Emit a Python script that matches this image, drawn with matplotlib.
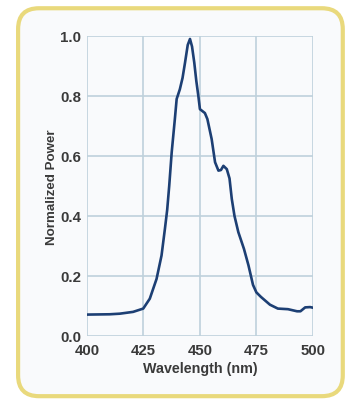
import matplotlib
matplotlib.use("Agg")
import matplotlib.pyplot as plt
from matplotlib.patches import FancyBboxPatch

# spectrum
wavelength = [400, 410, 414.5, 420.4, 424.9, 427.8, 430.8, 433, 434.5, 435.5, 436.4,
              437.5, 438.9, 439.7, 441.1, 442.3, 443.4, 444.6, 445.6, 446.5, 447.5,
              448.4, 449.3, 450, 452.2, 453.3, 455.2, 456.7, 458.2, 459.3, 460.4,
              461.9, 463.1, 464.1, 465.3, 467, 469.5, 471.5, 473.5, 475, 477, 481,
              484.5, 489, 493, 494.5, 496.6, 498.8, 500]
power = [0.071, 0.072, 0.074, 0.080, 0.091, 0.124, 0.19, 0.268, 0.357, 0.42, 0.50,
         0.612, 0.723, 0.79, 0.822, 0.86, 0.911, 0.97, 0.99, 0.965, 0.911,
         0.85, 0.80, 0.756, 0.743, 0.723, 0.656, 0.579, 0.551, 0.553, 0.567,
         0.556, 0.525, 0.457, 0.40, 0.346, 0.29, 0.235, 0.17, 0.145, 0.13, 0.104,
         0.091, 0.089, 0.082, 0.082, 0.095, 0.096, 0.094]
xticks = [400, 425, 450, 475, 500]
yticks = [0.0, 0.2, 0.4, 0.6, 0.8, 1.0]

plt.rcParams['font.family'] = ['Liberation Sans', 'DejaVu Sans']
txt = '#3a3a3a'
bg = '#f9fafc'

fig = plt.figure(figsize=(3.48, 4.02), dpi=100)
fig.patch.set_facecolor('white')
frame = FancyBboxPatch((0.052, 0.012), 0.933, 0.965, boxstyle="round,pad=0,rounding_size=0.06",
                       transform=fig.transFigure, facecolor=bg, edgecolor='#e9d97c',
                       linewidth=3.0, mutation_aspect=348 / 402, zorder=-5)
fig.patches.append(frame)

ax = fig.add_axes([0.25, 0.162, 0.649, 0.746])
ax.set_zorder(2)
ax.set_facecolor(bg)
ax.plot(wavelength, power, color='#1d3f74', lw=1.9, solid_joinstyle='round')
ax.set_xlim(400, 500)
ax.set_ylim(0, 1.0)
ax.set_xticks(xticks)
ax.set_yticks(yticks)
ax.set_yticklabels([f"{v:.1f}" for v in yticks])
ax.grid(True, color='#bfd1dc', lw=1.2)
ax.set_axisbelow(True)
for s in ax.spines.values():
    s.set_visible(False)
ax.tick_params(length=0, labelsize=10.8, colors=txt)
ax.tick_params(axis='y', pad=4)
ax.tick_params(axis='x', pad=5)
for lab in ax.get_xticklabels() + ax.get_yticklabels():
    lab.set_fontweight('bold')
ax.set_xlabel('Wavelength (nm)', fontsize=10.3, color=txt, fontweight='bold', labelpad=3)
ax.set_ylabel('Normalized Power', fontsize=9.6, color=txt, fontweight='bold', labelpad=2)

fig.savefig('out.png', dpi=100, facecolor='white')
